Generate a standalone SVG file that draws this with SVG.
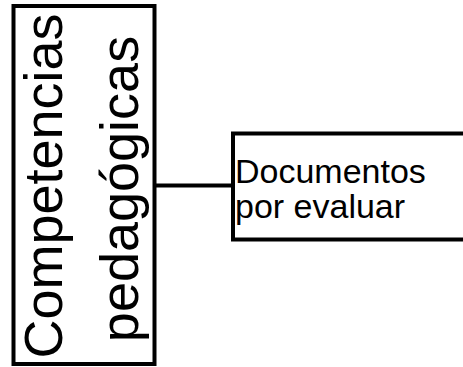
<svg xmlns="http://www.w3.org/2000/svg" width="463" height="367" viewBox="0 0 463 367">
<style>
.box{fill:#fff;stroke:#000;stroke-width:4}
.lbl{font-family:"Liberation Sans",Arial,sans-serif;fill:#000}
.conn{stroke:#000;stroke-width:4;fill:none}
</style>
<rect width="463" height="367" fill="#fff"/>
<g id="connectors">
<line class="conn" x1="156" y1="185.5" x2="233" y2="185.5"/>
</g>
<g id="node-competencias">
<rect class="box" x="13.5" y="6" width="141" height="358"/>
<text class="lbl" font-size="54" text-anchor="middle" transform="translate(62,186) rotate(-90)">Competencias</text>
<text class="lbl" font-size="54" text-anchor="middle" transform="translate(138,189) rotate(-90)">pedagógicas</text>
</g>
<g id="node-documentos">
<rect class="box" x="233" y="133.5" width="240" height="106"/>
<text class="lbl" font-size="34" x="235" y="183">Documentos</text>
<text class="lbl" font-size="34" x="235" y="218">por evaluar</text>
</g>
</svg>
